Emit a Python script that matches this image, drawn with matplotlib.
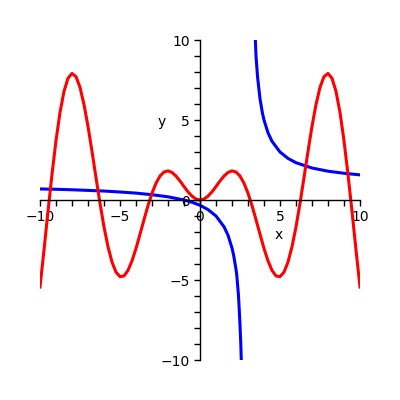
import matplotlib
matplotlib.use("Agg")
import matplotlib.pyplot as plt

# red curve, read at steps of 0.25 on the positive side (curve is symmetric)
red_x_pos = [0, 0.25, 0.5, 0.75, 1.0, 1.25, 1.5, 1.75, 2.0, 2.25, 2.5, 2.75, 3.0,
             3.25, 3.5, 3.75, 4.0, 4.25, 4.5, 4.75, 5.0, 5.25, 5.5, 5.75, 6.0,
             6.25, 6.5, 6.75, 7.0, 7.25, 7.5, 7.75, 8.0, 8.25, 8.5, 8.75, 9.0,
             9.25, 9.5, 9.75, 10.0]
red_y_pos = [0.0, 0.06, 0.24, 0.51, 0.84, 1.19, 1.50, 1.72, 1.82, 1.75, 1.50, 1.05, 0.42,
             -0.35, -1.23, -2.14, -3.03, -3.80, -4.40, -4.75, -4.79, -4.51, -3.88, -2.92, -1.68,
             -0.21, 1.40, 3.04, 4.60, 5.97, 7.04, 7.71, 7.91, 7.61, 6.79, 5.47, 3.71,
             1.61, -0.71, -3.12, -5.44]
red_x = [-v for v in red_x_pos[:0:-1]] + red_x_pos
red_y = red_y_pos[:0:-1] + red_y_pos

# blue curve, two branches either side of the gap near x = 3
blue_left_x = [-10, -9, -8, -7, -6, -5, -4, -3, -2, -1, -0.5, 0, 0.5, 1.0, 1.5, 1.75, 2.0,
               2.1, 2.25, 2.3, 2.4, 2.45, 2.5, 2.55, 2.58]
blue_left_y = [0.69, 0.67, 0.64, 0.60, 0.56, 0.50, 0.43, 0.33, 0.20, 0.0, -0.14, -0.33, -0.60,
               -1.0, -1.67, -2.2, -3.0, -3.44, -4.33, -4.71, -5.9, -6.8, -7.8, -9.0, -10.0]
blue_right_x = [3.46, 3.5, 3.6, 3.75, 3.9, 4.0, 4.25, 4.5, 5.0, 5.5, 6.0, 7.0, 8.0, 9.0, 10.0]
blue_right_y = [10.0, 9.0, 7.67, 6.33, 5.44, 5.0, 4.2, 3.67, 3.0, 2.6, 2.33, 2.0, 1.8, 1.67, 1.57]

fig = plt.figure(figsize=(4, 4), dpi=100)
ax = fig.add_axes([0.1, 0.1, 0.8, 0.8])

ax.plot(blue_left_x, blue_left_y, color='#0000ff', linewidth=2.2)
ax.plot(blue_right_x, blue_right_y, color='#0000ff', linewidth=2.2)
ax.plot(red_x, red_y, color='#ff0000', linewidth=2.2)

ax.set_xlim(-10, 10)
ax.set_ylim(-10, 10)

for side in ['top', 'right']:
    ax.spines[side].set_visible(False)
ax.spines['left'].set_position(('data', 0))
ax.spines['bottom'].set_position(('data', 0))
ax.spines['left'].set_linewidth(1)
ax.spines['bottom'].set_linewidth(1)

ax.set_xticks([-10, -5, 0, 5, 10])
ax.set_xticks(range(-10, 11), minor=True)
ax.set_yticks([-10, -5, 0, 5, 10])
ax.set_yticks(range(-10, 11), minor=True)
ax.tick_params(which='both', direction='out', length=4, width=1, labelsize=10)

ax.text(4.94, -2.2, 'x', ha='center', va='center', fontsize=10)
ax.text(-2.4, 4.9, 'y', ha='center', va='center', fontsize=10)

fig.savefig('out.png', dpi=100)
